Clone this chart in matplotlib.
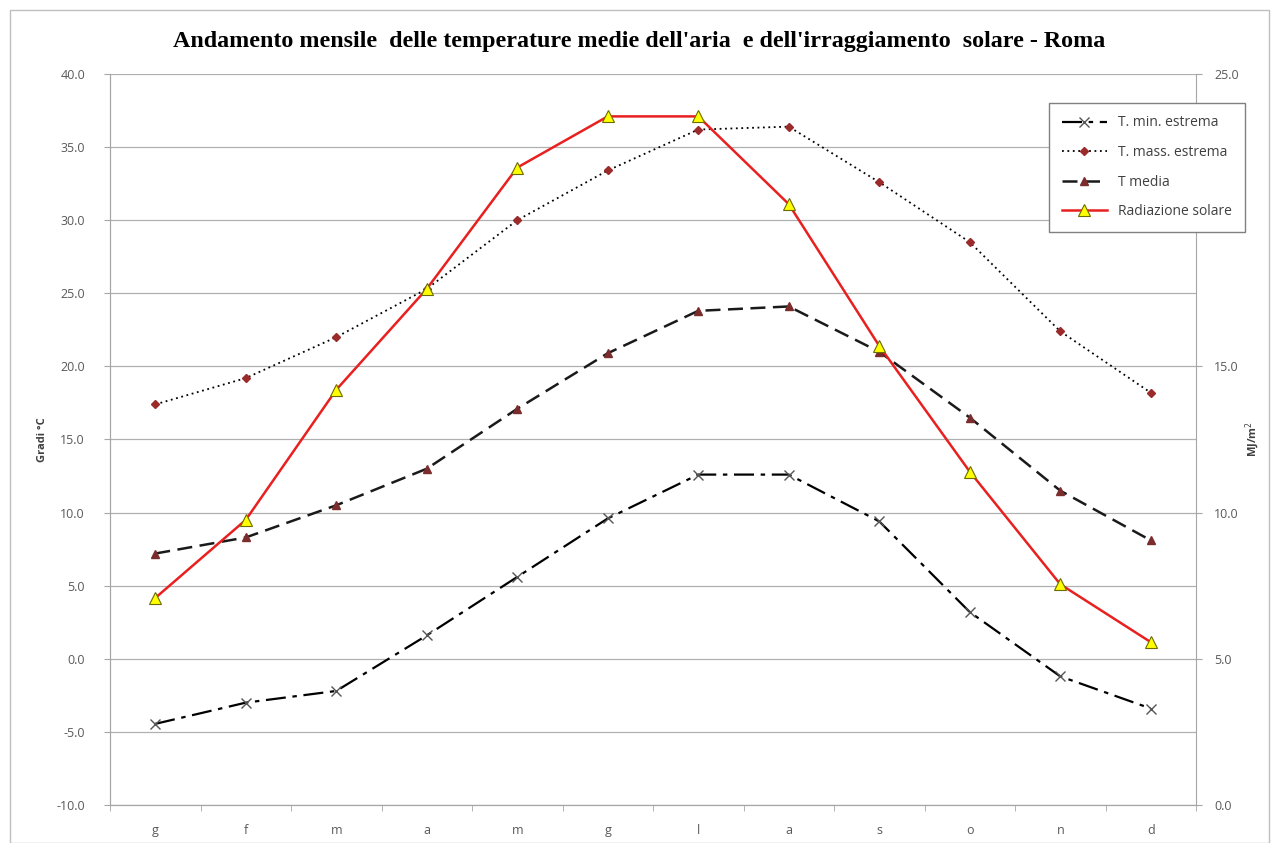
import matplotlib
matplotlib.use("Agg")
import matplotlib.pyplot as plt
from matplotlib.patches import Rectangle

months = ["g", "f", "m", "a", "m", "g", "l", "a", "s", "o", "n", "d"]
t_min = [-4.45, -3.0, -2.2, 1.6, 5.6, 9.6, 12.6, 12.6, 9.4, 3.2, -1.2, -3.4]
t_max = [17.4, 19.2, 22.0, 25.3, 30.0, 33.4, 36.2, 36.4, 32.6, 28.5, 22.4, 18.2]
t_media = [7.2, 8.3, 10.5, 13.0, 17.1, 20.9, 23.8, 24.1, 21.0, 16.5, 11.5, 8.1]
radiazione = [7.08, 9.75, 14.2, 17.65, 21.8, 23.55, 23.55, 20.55, 15.7, 11.4, 7.55, 5.57]

left_ticks = [-10, -5, 0, 5, 10, 15, 20, 25, 30, 35, 40]
right_ticks = [0, 5, 10, 15, 20, 25]
right_hidden = [20]  # label covered by the legend in the reference

plt.rcParams['font.family'] = ['Open Sans', 'DejaVu Sans']

fig = plt.figure(figsize=(12.79, 8.43), dpi=100)
fig.patches.append(Rectangle((10/1279, 0), 1 - 20/1279, 1 - 10/843, transform=fig.transFigure,
                             fill=False, edgecolor="#bfbfbf", linewidth=1.0))
ax = fig.add_axes([110/1279, 1 - 805/843, (1196 - 110)/1279, (805 - 74)/843])
ax2 = ax.twinx()

x = list(range(len(months)))
grey = "#595959"
axis_col = "#a6a6a6"

l1, = ax.plot(x, t_min, color="black", linestyle=(0, (9, 3, 2, 3)), linewidth=1.6,
              marker="x", markersize=7, markeredgecolor="#555555", markeredgewidth=1.0,
              label="T. min. estrema")
l2, = ax.plot(x, t_max, color="black", linestyle=(0, (1, 2)), linewidth=1.3,
              marker="D", markersize=4, markerfacecolor="#9b2b2b", markeredgecolor="#9b2b2b",
              label="T. mass. estrema")
l3, = ax.plot(x, t_media, color="#1a1a1a", linestyle=(0, (6, 3)), linewidth=1.8,
              marker="^", markersize=6, markerfacecolor="#7b2c2c", markeredgecolor="#7b2c2c",
              label="T media")
l4, = ax2.plot(x, radiazione, color="#e8201f", linestyle="-", linewidth=1.8,
               marker="^", markersize=9, markerfacecolor="#ffff00", markeredgecolor="#6b6b00",
               markeredgewidth=0.8, label="Radiazione solare")

ax.set_xlim(-0.5, len(months) - 0.5)
ax.set_ylim(-10, 40)
ax2.set_ylim(0, 25)
ax.set_yticks(left_ticks)
ax.set_yticklabels([f"{v:.1f}" for v in left_ticks])
ax2.set_yticks(right_ticks)
ax2.set_yticklabels(["" if v in right_hidden else f"{v:.1f}" for v in right_ticks])
ax.set_xticks(x)
ax.set_xticklabels(months)
ax.set_xticks([i - 0.5 for i in range(len(months) + 1)], minor=True)
ax.tick_params(axis="x", which="major", length=0, labelsize=9, colors=grey, pad=14)
ax.tick_params(axis="x", which="minor", length=4, color=axis_col, direction="out")
ax.tick_params(axis="y", length=4, color=axis_col, labelsize=9, labelcolor=grey, pad=14)
ax2.tick_params(axis="y", length=4, color=axis_col, labelsize=9, labelcolor=grey, pad=9)

ax.grid(axis="y", color="#b0b0b0", linewidth=0.9)
ax.set_axisbelow(True)
for a in (ax, ax2):
    a.spines["top"].set_visible(False)
    for s in ("left", "right", "bottom"):
        a.spines[s].set_color(axis_col)
ax.spines["right"].set_visible(False)

ax.set_ylabel("Gradi °C", fontsize=8, fontweight="bold", color="#404040", labelpad=6)
ax2.set_ylabel("MJ/m$^2$", fontsize=8, fontweight="bold", color="#404040", rotation=90, labelpad=4)

fig.text(0.5, 1 - 42/843, "Andamento mensile  delle temperature medie dell'aria  e dell'irraggiamento  solare - Roma",
         ha="center", va="center", fontsize=17.3, fontweight="bold", family="Liberation Serif")

leg = fig.legend(handles=[l1, l2, l3, l4], loc="upper left",
                 bbox_to_anchor=(1049/1279, 1 - 103/843), fontsize=10, frameon=True,
                 fancybox=False, edgecolor="#808080", labelspacing=1.05, handlelength=3.3,
                 borderpad=0.9, borderaxespad=0, labelcolor="#404040", framealpha=1)
leg.get_frame().set_linewidth(1.0)
leg.set_zorder(10)

fig.savefig("out.png", dpi=100, facecolor="white")
